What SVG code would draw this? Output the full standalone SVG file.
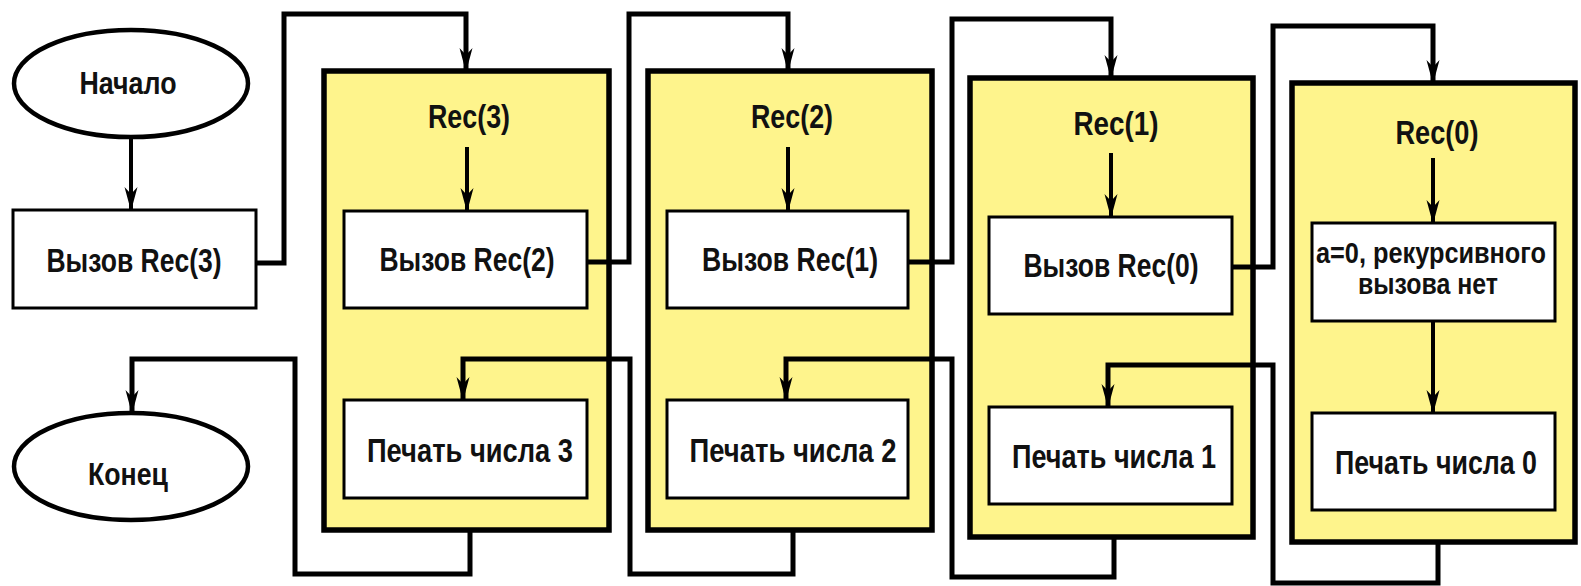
<svg xmlns="http://www.w3.org/2000/svg" width="1581" height="586" viewBox="0 0 1581 586">
<style>
.panel{fill:#FEF48C;stroke:#000;stroke-width:5.5}
.box{fill:#fff;stroke:#000;stroke-width:3}
.oval{fill:#fff;stroke:#000;stroke-width:4.5}
.t{font-family:"Liberation Sans",Arial,sans-serif;font-weight:bold;font-size:33px;text-anchor:middle;fill:#111}
.s{font-size:31px}
.m{font-size:29px}
.c{fill:none;stroke:#000;stroke-width:5;stroke-linejoin:miter}
.a{fill:none;stroke:#000;stroke-width:4}
</style>
<defs>
<marker id="ah" markerUnits="userSpaceOnUse" markerWidth="30" markerHeight="16" refX="0" refY="0" viewBox="-24 -8 26 16" orient="auto" overflow="visible">
<path d="M1,0 L-23,-6.5 L-16,0 L-23,6.5 Z" fill="#000"/>
</marker>
</defs>
<rect width="1581" height="586" fill="#fff"/>

<g id="start">
<ellipse class="oval" cx="131" cy="83.5" rx="117" ry="53.5"/>
<text class="t s" x="128" y="94" textLength="97" lengthAdjust="spacingAndGlyphs">Начало</text>
</g>
<g id="call3">
<rect class="box" x="13" y="210" width="243" height="98"/>
<text class="t" x="134" y="272" textLength="175" lengthAdjust="spacingAndGlyphs">Вызов Rec(3)</text>
</g>
<g id="end">
<ellipse class="oval" cx="131" cy="466.5" rx="117" ry="53.5"/>
<text class="t s" x="128" y="485" textLength="80" lengthAdjust="spacingAndGlyphs">Конец</text>
</g>

<g id="rec3">
<rect class="panel" x="324" y="71" width="285" height="459"/>
<text class="t" x="469" y="128" textLength="82" lengthAdjust="spacingAndGlyphs">Rec(3)</text>
<g id="rec3-call">
<rect class="box" x="344" y="211" width="243" height="97"/>
<text class="t" x="467" y="271" textLength="175" lengthAdjust="spacingAndGlyphs">Вызов Rec(2)</text>
</g>
<g id="rec3-print">
<rect class="box" x="344" y="400" width="243" height="98"/>
<text class="t" x="470" y="462" textLength="206" lengthAdjust="spacingAndGlyphs">Печать числа 3</text>
</g>
</g>

<g id="rec2">
<rect class="panel" x="648" y="71" width="284" height="459"/>
<text class="t" x="792" y="128" textLength="82" lengthAdjust="spacingAndGlyphs">Rec(2)</text>
<g id="rec2-call">
<rect class="box" x="667" y="211" width="241" height="97"/>
<text class="t" x="790" y="271" textLength="176" lengthAdjust="spacingAndGlyphs">Вызов Rec(1)</text>
</g>
<g id="rec2-print">
<rect class="box" x="667" y="400" width="241" height="98"/>
<text class="t" x="793" y="462" textLength="207" lengthAdjust="spacingAndGlyphs">Печать числа 2</text>
</g>
</g>

<g id="rec1">
<rect class="panel" x="970" y="78" width="283" height="459"/>
<text class="t" x="1116" y="135" textLength="85" lengthAdjust="spacingAndGlyphs">Rec(1)</text>
<g id="rec1-call">
<rect class="box" x="989" y="217" width="243" height="97"/>
<text class="t" x="1111" y="277" textLength="175" lengthAdjust="spacingAndGlyphs">Вызов Rec(0)</text>
</g>
<g id="rec1-print">
<rect class="box" x="989" y="407" width="243" height="97"/>
<text class="t" x="1114" y="468" textLength="204" lengthAdjust="spacingAndGlyphs">Печать числа 1</text>
</g>
</g>

<g id="rec0">
<rect class="panel" x="1292" y="83" width="283" height="459"/>
<text class="t" x="1437" y="144" textLength="83" lengthAdjust="spacingAndGlyphs">Rec(0)</text>
<g id="rec0-check">
<rect class="box" x="1312" y="223" width="243" height="98"/>
<text class="t m" x="1431" y="263" textLength="230" lengthAdjust="spacingAndGlyphs">a=0, рекурсивного</text>
<text class="t m" x="1428" y="294" textLength="140" lengthAdjust="spacingAndGlyphs">вызова нет</text>
</g>
<g id="rec0-print">
<rect class="box" x="1312" y="413" width="243" height="97"/>
<text class="t" x="1436" y="474" textLength="202" lengthAdjust="spacingAndGlyphs">Печать числа 0</text>
</g>
</g>

<g id="connectors">
<line class="a" x1="131" y1="137" x2="131" y2="210" marker-end="url(#ah)"/>
<line class="a" x1="467" y1="147" x2="467" y2="211" marker-end="url(#ah)"/>
<line class="a" x1="788" y1="147" x2="788" y2="211" marker-end="url(#ah)"/>
<line class="a" x1="1111" y1="153" x2="1111" y2="217" marker-end="url(#ah)"/>
<line class="a" x1="1433" y1="158" x2="1433" y2="223" marker-end="url(#ah)"/>
<line class="a" x1="1433" y1="321" x2="1433" y2="413" marker-end="url(#ah)"/>

<polyline class="c" points="256,263 284,263 284,14 466,14 466,71" marker-end="url(#ah)"/>
<polyline class="c" points="587,262 629,262 629,14 788,14 788,71" marker-end="url(#ah)"/>
<polyline class="c" points="908,262 952,262 952,19 1111,19 1111,78" marker-end="url(#ah)"/>
<polyline class="c" points="1232,267 1273,267 1273,26 1433,26 1433,83" marker-end="url(#ah)"/>

<polyline class="c" points="1438,542 1438,583 1273,583 1273,365 1108,365 1108,407" marker-end="url(#ah)"/>
<polyline class="c" points="1114,537 1114,577 952,577 952,359 786,359 786,400" marker-end="url(#ah)"/>
<polyline class="c" points="793,530 793,574 630,574 630,359 463,359 463,400" marker-end="url(#ah)"/>
<polyline class="c" points="470,530 470,574 295,574 295,359 132,359 132,413" marker-end="url(#ah)"/>
</g>
</svg>
